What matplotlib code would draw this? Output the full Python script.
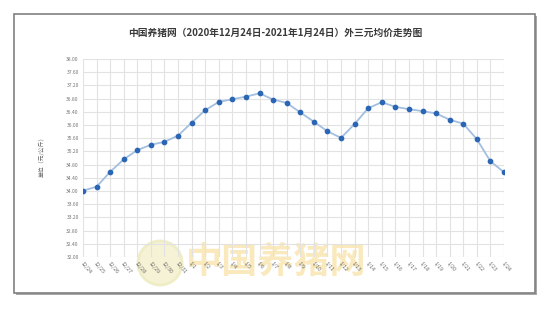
import matplotlib
matplotlib.use("Agg")
import matplotlib.pyplot as plt
from matplotlib.patches import Rectangle, Ellipse

plt.rcParams['font.family'] = ['Noto Sans CJK SC', 'DejaVu Sans']

# ---------------------------------------------------------------------------
# Data
# ---------------------------------------------------------------------------
dates = ["12/24", "12/25", "12/26", "12/27", "12/28", "12/29", "12/30", "12/31",
         "1/1", "1/2", "1/3", "1/4", "1/5", "1/6", "1/7", "1/8", "1/9", "1/10",
         "1/11", "1/12", "1/13", "1/14", "1/15", "1/16", "1/17", "1/18", "1/19",
         "1/20", "1/21", "1/22", "1/23", "1/24"]
prices = [34.01, 34.13, 34.58, 34.96, 35.24, 35.40, 35.49, 35.68,
          36.07, 36.45, 36.70, 36.78, 36.86, 36.96, 36.77, 36.67, 36.38, 36.10,
          35.81, 35.61, 36.03, 36.51, 36.69, 36.55, 36.48, 36.42, 36.35,
          36.16, 36.04, 35.57, 34.90, 34.57]
y_ticks = [32.0 + 0.4 * i for i in range(16)]

title = "中国养猪网（2020年12月24日-2021年1月24日）外三元均价走势图"
ylabel = "单位（元/公斤）"
watermark = "中国养猪网"

# ---------------------------------------------------------------------------
# Figure
# ---------------------------------------------------------------------------
W, H = 550, 309
fig = plt.figure(figsize=(W / 100, H / 100), dpi=100)
fig.patch.set_facecolor("white")


def fx(px):
    return px / W


def fy(py):
    return 1 - py / H


# outer frame with drop shadow
fig.add_artist(Rectangle((fx(16), fy(295)), fx(521), fy(16) - fy(295),
                         transform=fig.transFigure, facecolor="#a8a8a8",
                         edgecolor="none", zorder=-10))
fig.add_artist(Rectangle((fx(14), fy(293)), fx(521), fy(14) - fy(293),
                         transform=fig.transFigure, facecolor="white",
                         edgecolor="#808080", linewidth=1.2, zorder=-9))

# faded watermark
fig.add_artist(Ellipse((fx(160), fy(263)), fx(44), fy(0) - fy(44),
                       transform=fig.transFigure, facecolor="#f6f2d6",
                       edgecolor="#eeedc6", linewidth=2, zorder=-8))
fig.text(fx(276), fy(262), watermark, ha="center", va="center", fontsize=26,
         fontweight="bold", color="#f9e9bc", zorder=-7)

ax = fig.add_axes([fx(83), fy(257), fx(504) - fx(83), fy(59) - fy(257)])
ax.set_facecolor("none")

x = list(range(len(dates)))
ax.plot(x, prices, color="#a3bfe0", linewidth=1.3, zorder=3)
ax.plot(x, prices, linestyle="none", marker="o", markersize=3.1,
        markerfacecolor="#2b66b5", markeredgecolor="#2b66b5", zorder=4)

ax.set_xlim(0, len(dates) - 1)
ax.set_ylim(32, 38)
ax.set_yticks(y_ticks)
ax.set_yticklabels([f"{v:.2f}" for v in y_ticks], fontsize=3.6, color="#777777")
ax.set_xticks(x)
ax.set_xticklabels(dates, fontsize=3.8, color="#666666", rotation=-50,
                   ha="left", va="top", rotation_mode="anchor")
ax.tick_params(length=0, pad=3)
ax.grid(True, color="#e2e2e2", linewidth=0.8)
for s in ax.spines.values():
    s.set_visible(False)
ax.set_axisbelow(True)

fig.text(fx(275), fy(33), title, ha="center", va="center", fontsize=7,
         fontweight="bold", color="#3a3a3a")
fig.text(fx(42), fy(155), ylabel, ha="center", va="center", fontsize=4.2,
         color="#666666", rotation=90)

fig.savefig("out.png", dpi=100, facecolor="white")
